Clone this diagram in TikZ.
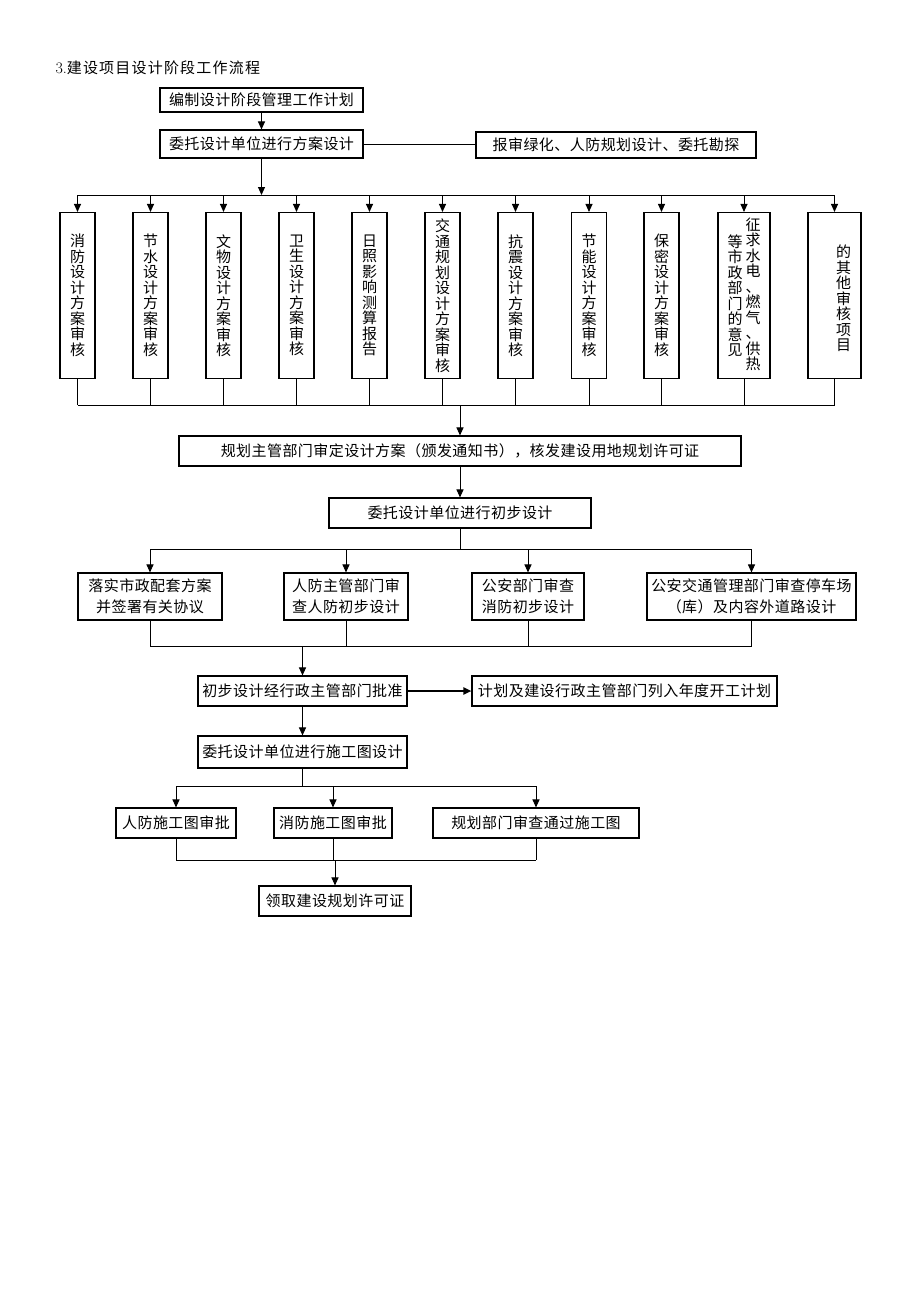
\documentclass[tikz,border=0pt]{standalone}
\usepackage{fontspec}
\newfontfamily\cjk[LetterSpace=3]{Noto Sans CJK SC}
\newfontfamily\cjkwide[LetterSpace=8]{Noto Sans CJK SC}
\usetikzlibrary{arrows.meta,positioning,calc}
\tikzstyle{block} = [draw, line width=1.1pt, rectangle, inner sep=0pt, align=center, font=\cjk\fontsize{15}{21}\selectfont]
\tikzstyle{vblock} = [block, minimum width=35pt, minimum height=166pt, font=\cjk\fontsize{15}{15.5}\selectfont]
\tikzstyle{vtext} = [inner sep=0pt, align=center, font=\cjk\fontsize{15}{15.5}\selectfont]
\tikzstyle{bus} = [coordinate]

\begin{document}
\begin{tikzpicture}[x=1pt, y=-1pt, line width=1pt, >={Triangle[length=8pt,width=7pt]}]
    \fill[white] (0,0) rectangle (920,1302);
    \useasboundingbox (0,0) rectangle (920,1302);
    % Title
    \node[anchor=west, inner sep=0pt, font=\cjkwide\fontsize{15}{18}\selectfont] (title) at (55,68) {{\rmfamily\fontsize{16}{18}\selectfont 3.}建设项目设计阶段工作流程};

    % Scheme design
    \node [block, minimum width=203pt, minimum height=24pt] (plan) at (261.5,100) {编制设计阶段管理工作计划};
    \node [block, minimum width=203pt, minimum height=28pt] (scheme) at (261.5,144) {委托设计单位进行方案设计};
    \node [block, minimum width=280pt, minimum height=26pt] (greening) at (616,145) {报审绿化、人防规划设计、委托勘探};

    % Reviews of the scheme
    \node [vblock] (fire) at (77.5,295.5) {消\\防\\设\\计\\方\\案\\审\\核};
    \node [vblock] (water) at (150.5,295.5) {节\\水\\设\\计\\方\\案\\审\\核};
    \node [vblock] (relic) at (223.5,295.5) {文\\物\\设\\计\\方\\案\\审\\核};
    \node [vblock] (health) at (296.5,295.5) {卫\\生\\设\\计\\方\\案\\审\\核};
    \node [vblock] (sun) at (369.5,295.5) {日\\照\\影\\响\\测\\算\\报\\告};
    \node [vblock] (traffic) at (442.5,295.5) {交\\通\\规\\划\\设\\计\\方\\案\\审\\核};
    \node [vblock] (quake) at (515.5,295.5) {抗\\震\\设\\计\\方\\案\\审\\核};
    \node [vblock] (energy) at (589,295.5) {节\\能\\设\\计\\方\\案\\审\\核};
    \node [vblock] (secret) at (661.5,295.5) {保\\密\\设\\计\\方\\案\\审\\核};
    \node [vblock, minimum width=52pt] (utility) at (744,295.5) {};
    \node [vtext, anchor=north] (utilityr) at ([xshift=9pt,yshift=-5pt]utility.north) {征\\求\\水\\电\\、\\燃\\气\\、\\供\\热};
    \node [vtext, anchor=north] (utilityl) at ([xshift=-9pt,yshift=-22pt]utility.north) {等\\市\\政\\部\\门\\的\\意\\见};
    \node [vblock, minimum width=53pt] (other) at (834.5,295.5) {};
    \node [vtext] (othert) at ([xshift=9pt,yshift=-3pt]other.center) {的\\其\\他\\审\\核\\项\\目};

    % Preliminary design
    \node [block, minimum width=562pt, minimum height=30pt] (approve) at (460,451) {规划主管部门审定设计方案（颁发通知书），核发建设用地规划许可证};
    \node [block, minimum width=262pt, minimum height=30pt] (prelim) at (460,513) {委托设计单位进行初步设计};
    \node [block, minimum width=144pt, minimum height=47pt] (match) at (150,596.5) {落实市政配套方案\\并签署有关协议};
    \node [block, minimum width=124pt, minimum height=47pt] (defence) at (346,596.5) {人防主管部门审\\查人防初步设计};
    \node [block, minimum width=112pt, minimum height=47pt] (firecheck) at (528,596.5) {公安部门审查\\消防初步设计};
    \node [block, minimum width=209pt, minimum height=47pt] (police) at (751.5,596.5) {公安交通管理部门审查停车场\\（库）及内容外道路设计};
    \node [block, minimum width=209pt, minimum height=30pt] (ratify) at (302.5,691) {初步设计经行政主管部门批准};
    \node [block, minimum width=305pt, minimum height=30pt] (annual) at (624.5,691) {计划及建设行政主管部门列入年度开工计划};

    % Construction drawings
    \node [block, minimum width=209pt, minimum height=32pt] (drawing) at (302.5,752) {委托设计单位进行施工图设计};
    \node [block, minimum width=120pt, minimum height=30pt] (civil) at (176,823) {人防施工图审批};
    \node [block, minimum width=118pt, minimum height=30pt] (firedraw) at (333,823) {消防施工图审批};
    \node [block, minimum width=206pt, minimum height=30pt] (review) at (536,823) {规划部门审查通过施工图};
    \node [block, minimum width=152pt, minimum height=30pt] (permit) at (335,901) {领取建设规划许可证};

    % Bus points
    \node [bus] (busa) at (261.5,195) {};
    \node [bus] (busb) at (460,405) {};
    \node [bus] (busc) at (460,549) {};
    \node [bus] (busd) at (302.5,646) {};
    \node [bus] (buse) at (302.5,786) {};
    \node [bus] (busf) at (335,860) {};

    % Connections
    \draw [->] (plan) -- (scheme);
    \draw (scheme.east) -- (scheme.east -| greening.west);
    \draw [->] (scheme) -- (busa);
    \draw (busa -| fire) -- (busa -| other);
    \draw [->] (busa -| fire) -- (fire);
    \draw [->] (busa -| water) -- (water);
    \draw [->] (busa -| relic) -- (relic);
    \draw [->] (busa -| health) -- (health);
    \draw [->] (busa -| sun) -- (sun);
    \draw [->] (busa -| traffic) -- (traffic);
    \draw [->] (busa -| quake) -- (quake);
    \draw [->] (busa -| energy) -- (energy);
    \draw [->] (busa -| secret) -- (secret);
    \draw [->] (busa -| utility) -- (utility);
    \draw [->] (busa -| other) -- (other);

    \draw (fire) -- (fire |- busb);
    \draw (water) -- (water |- busb);
    \draw (relic) -- (relic |- busb);
    \draw (health) -- (health |- busb);
    \draw (sun) -- (sun |- busb);
    \draw (traffic) -- (traffic |- busb);
    \draw (quake) -- (quake |- busb);
    \draw (energy) -- (energy |- busb);
    \draw (secret) -- (secret |- busb);
    \draw (utility) -- (utility |- busb);
    \draw (other) -- (other |- busb);
    \draw (fire |- busb) -- (other |- busb);
    \draw [->] (busb) -- (approve);

    \draw [->] (approve) -- (prelim);
    \draw (prelim) -- (busc);
    \draw (busc -| match) -- (busc -| police);
    \draw [->] (busc -| match) -- (match);
    \draw [->] (busc -| defence) -- (defence);
    \draw [->] (busc -| firecheck) -- (firecheck);
    \draw [->] (busc -| police) -- (police);
    \draw (match) -- (match |- busd);
    \draw (defence) -- (defence |- busd);
    \draw (firecheck) -- (firecheck |- busd);
    \draw (police) -- (police |- busd);
    \draw (match |- busd) -- (police |- busd);
    \draw [->] (busd) -- (ratify);
    \draw [->, line width=1.8pt] (ratify) -- (annual);

    \draw [->] (ratify) -- (drawing);
    \draw (drawing) -- (buse);
    \draw (buse -| civil) -- (buse -| review);
    \draw [->] (buse -| civil) -- (civil);
    \draw [->] (buse -| firedraw) -- (firedraw);
    \draw [->] (buse -| review) -- (review);
    \draw (civil) -- (civil |- busf);
    \draw (firedraw) -- (firedraw |- busf);
    \draw (review) -- (review |- busf);
    \draw (civil |- busf) -- (review |- busf);
    \draw [->] (busf) -- (permit);
\end{tikzpicture}
\end{document}
